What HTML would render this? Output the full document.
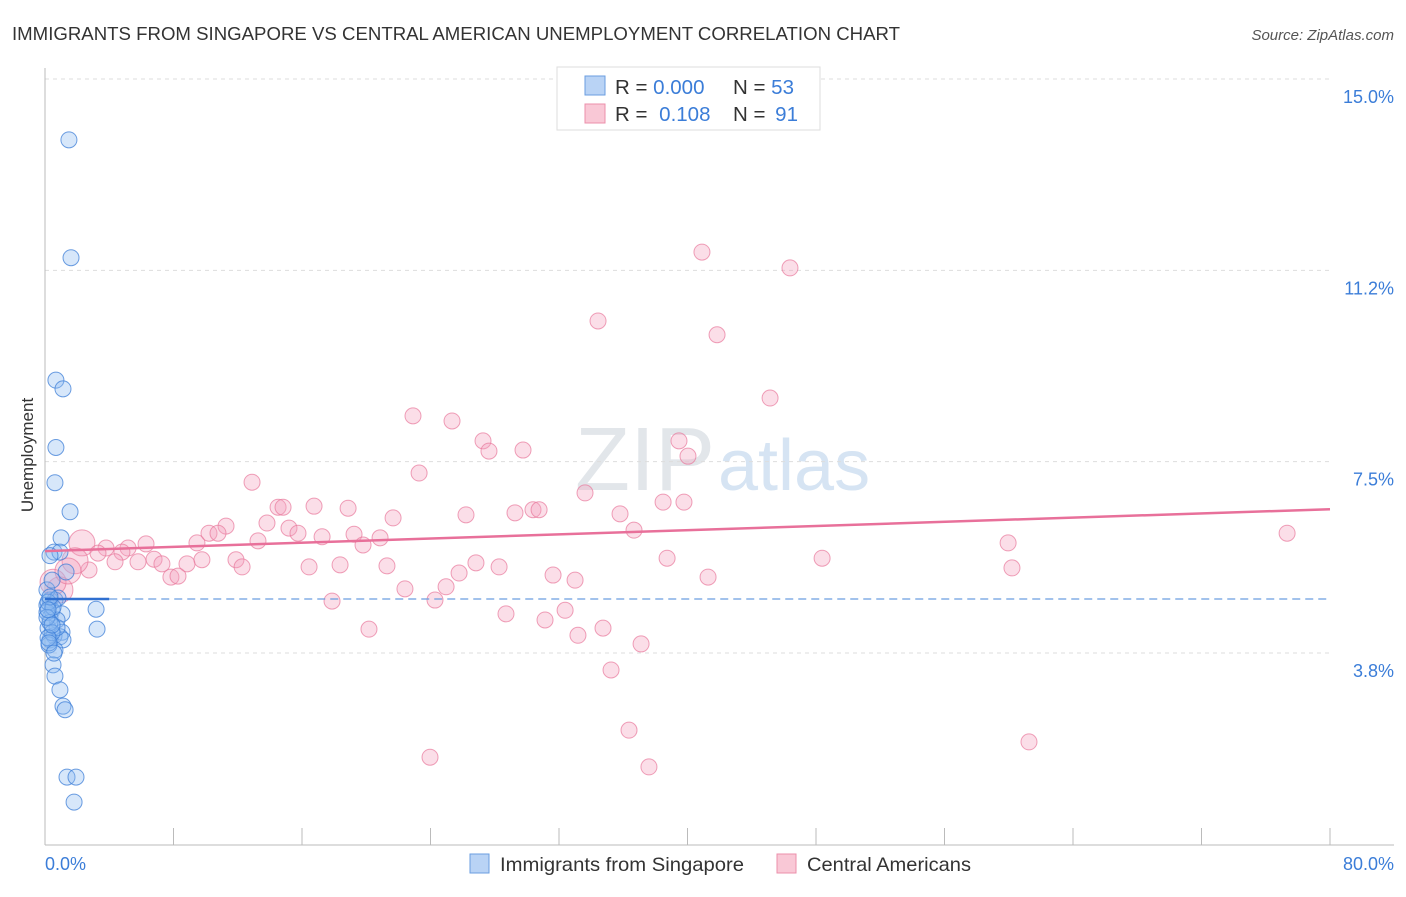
<!DOCTYPE html>
<html><head><meta charset="utf-8"><style>
body{margin:0;background:#fff;font-family:"Liberation Sans",sans-serif;}
svg text{font-family:"Liberation Sans",sans-serif;}
</style></head><body>
<svg width="1406" height="892" viewBox="0 0 1406 892">
<text x="12" y="40" font-size="18.5" fill="#333" textLength="888" lengthAdjust="spacingAndGlyphs">IMMIGRANTS FROM SINGAPORE VS CENTRAL AMERICAN UNEMPLOYMENT CORRELATION CHART</text>
<text x="1394" y="40" font-size="15" fill="#555" font-style="italic" text-anchor="end">Source: ZipAtlas.com</text>
<text x="715" y="490" font-size="90" fill="#e2e6ea" text-anchor="end" font-family="Liberation Serif">ZIP</text>
<text x="718" y="490" font-size="72" fill="#d6e4f3">atlas</text>
<g id="grid"></g><g id="axes"></g><g id="pink"></g><g id="blue"></g><g id="trend"></g>
<text x="33" y="455" font-size="17" fill="#333" text-anchor="middle" transform="rotate(-90 33 455)">Unemployment</text>
<text x="45" y="870" font-size="18" fill="#3b7dd8">0.0%</text>
<text x="1394" y="870" font-size="18" fill="#3b7dd8" text-anchor="end">80.0%</text>
<g>
<rect x="470" y="854" width="19" height="19" fill="#b9d3f5" stroke="#6a9ee0"/>
<text x="500" y="871" font-size="19.5" fill="#333" textLength="244" lengthAdjust="spacingAndGlyphs">Immigrants from Singapore</text>
<rect x="777" y="854" width="19" height="19" fill="#f9c8d6" stroke="#ec8fab"/>
<text x="807" y="871" font-size="19.5" fill="#333" textLength="164" lengthAdjust="spacingAndGlyphs">Central Americans</text>
</g>
<g>
<rect x="557" y="67" width="263" height="63" fill="#fff" stroke="#ddd"/>
<rect x="585" y="76" width="20" height="19" fill="#b9d3f5" stroke="#6a9ee0"/>
<rect x="585" y="104" width="20" height="19" fill="#f9c8d6" stroke="#ec8fab"/>
<text x="615" y="94" font-size="20.5" fill="#333">R = <tspan fill="#3b7dd8">0.000</tspan></text>
<text x="733" y="94" font-size="20.5" fill="#333">N = <tspan fill="#3b7dd8">53</tspan></text>
<text x="615" y="121" font-size="20.5" fill="#333">R =  <tspan fill="#3b7dd8" dx="6">0.108</tspan></text>
<text x="733" y="121" font-size="20.5" fill="#333">N =  <tspan fill="#3b7dd8" dx="4">91</tspan></text>
</g>
</svg>
<script>
const yTicks=[15.0,11.25,7.5,3.75];
const yTickLabels=["15.0%","11.2%","7.5%","3.8%"];
const xTicks=[0,8,16,24,32,40,48,56,64,72,80];
const blueX=[1.49,1.62,0.68,1.12,0.68,0.62,1.56,1.0,0.56,0.93,0.31,1.31,0.31,0.62,0.12,0.44,1.06,0.31,0.75,0.19,1.06,0.56,0.93,0.31,1.12,0.62,0.5,0.62,0.93,1.12,1.25,1.37,1.93,1.81,3.18,3.24,0.12,0.44,0.81,0.25,0.12,0.19,0.5,0.75,0.31,0.44,0.12,0.19,0.25,0.56,0.31,0.19,0.44];
const blueY=[14.16,11.85,9.45,9.28,8.13,7.44,6.87,6.36,6.08,6.08,6.01,5.69,5.14,5.14,5.04,4.94,4.87,4.79,4.75,4.59,4.51,4.44,4.42,4.36,4.36,4.16,3.87,3.65,3.38,3.06,2.99,1.67,1.67,1.18,4.96,4.57,5.34,5.53,5.18,4.26,4.9,5.1,5.0,4.6,4.7,4.5,4.8,4.4,4.3,4.1,5.2,4.95,4.65];
const pinkX=[40.9,46.38,34.43,41.84,45.14,22.91,25.34,27.27,27.64,29.76,39.47,40.03,12.89,23.29,33.62,14.51,14.82,16.75,18.87,26.21,29.26,30.38,30.76,35.8,38.48,39.78,21.67,13.82,11.27,15.19,15.75,17.25,19.24,20.86,36.67,77.33,59.96,2.30,3.80,5.17,6.29,9.46,10.21,10.77,13.26,19.8,3.30,4.79,6.79,4.36,5.79,7.28,8.84,9.77,11.89,12.27,2.74,1.87,16.44,18.37,21.29,26.83,28.27,38.73,48.38,60.2,7.84,8.28,25.78,31.63,33.0,41.28,24.97,22.41,17.87,24.28,32.38,28.7,31.13,20.17,33.18,34.74,37.11,35.24,36.36,23.97,37.6,61.26,0.93,0.5,1.43];
const pinkY=[11.96,11.65,10.61,10.34,9.10,8.75,8.65,8.26,8.06,8.08,8.26,7.96,7.45,7.63,7.24,6.96,6.96,6.98,6.94,6.81,6.85,6.91,6.91,6.83,7.06,7.06,6.75,6.65,6.59,6.55,6.45,6.38,6.43,6.36,6.51,6.45,6.26,6.26,6.16,6.16,6.24,6.26,6.45,6.45,6.30,6.22,6.06,6.08,5.94,5.89,5.89,5.85,5.85,5.93,5.93,5.79,5.73,5.91,5.79,5.83,5.81,5.87,5.79,5.96,5.96,5.77,5.59,5.61,5.67,5.63,5.53,5.59,5.40,5.36,5.12,5.14,4.94,4.87,4.75,4.57,4.45,4.59,4.28,3.77,2.59,2.06,1.87,2.36,5.34,5.49,5.71];
const pinkTrend=[6.10,6.92];
const blueTrend=[5.16,5.16];
const NS='http://www.w3.org/2000/svg';
const x=v=>45+v/80*1285;
const y=v=>97+(15-v)*51.02;
function mk(tag,attrs,parent){const e=document.createElementNS(NS,tag);for(const k in attrs)e.setAttribute(k,attrs[k]);document.getElementById(parent).appendChild(e);return e;}
yTicks.forEach((t,i)=>{
 const g=mk('line',{x1:45,x2:1330,y1:y(t)-18,y2:y(t)-18,stroke:'#ddd','stroke-dasharray':'4,4'},'grid');
 
 
 const l=mk('text',{x:1394,y:y(t)+6,'font-size':18,fill:'#3b7dd8','text-anchor':'end'},'grid');
 l.textContent=yTickLabels[i];
 
 
});
const xa=mk('line',{x1:45,x2:1394,y1:845,y2:845,stroke:'#bbb'},'axes');


const ya=mk('line',{x1:45,x2:45,y1:68,y2:845,stroke:'#bbb'},'axes');


xTicks.forEach(t=>{
 const e=mk('line',{x1:x(t),x2:x(t),y1:828,y2:845,stroke:'#bbb'},'axes');
 
 
});
pinkX.forEach((v,i)=>{
 const r=v<2.5?13:8;
 const c=mk('circle',{cx:x(v),cy:y(pinkY[i]),r:r,fill:'rgba(244,160,188,0.35)',stroke:'rgba(232,120,155,0.7)','stroke-width':1},'pink');
 
 
});
blueX.forEach((v,i)=>{
 const c=mk('circle',{cx:x(v),cy:y(blueY[i]),r:8,fill:'rgba(140,185,240,0.35)',stroke:'rgba(60,125,215,0.75)','stroke-width':1},'blue');
 
 
});
const pt=mk('line',{x1:x(0),x2:x(80),y1:y(pinkTrend[0]),y2:y(pinkTrend[1]),stroke:'#e8709a','stroke-width':2.5},'trend');


const bt=mk('line',{x1:x(0),x2:x(4),y1:y(blueTrend[0]),y2:y(blueTrend[0]),stroke:'#2f6fd0','stroke-width':2.5},'trend');


const bd=mk('line',{x1:x(4),x2:x(80),y1:y(blueTrend[0]),y2:y(blueTrend[1]),stroke:'#6a9ee0','stroke-width':1.3,'stroke-dasharray':'8,5'},'trend');


</script>
</body></html>
